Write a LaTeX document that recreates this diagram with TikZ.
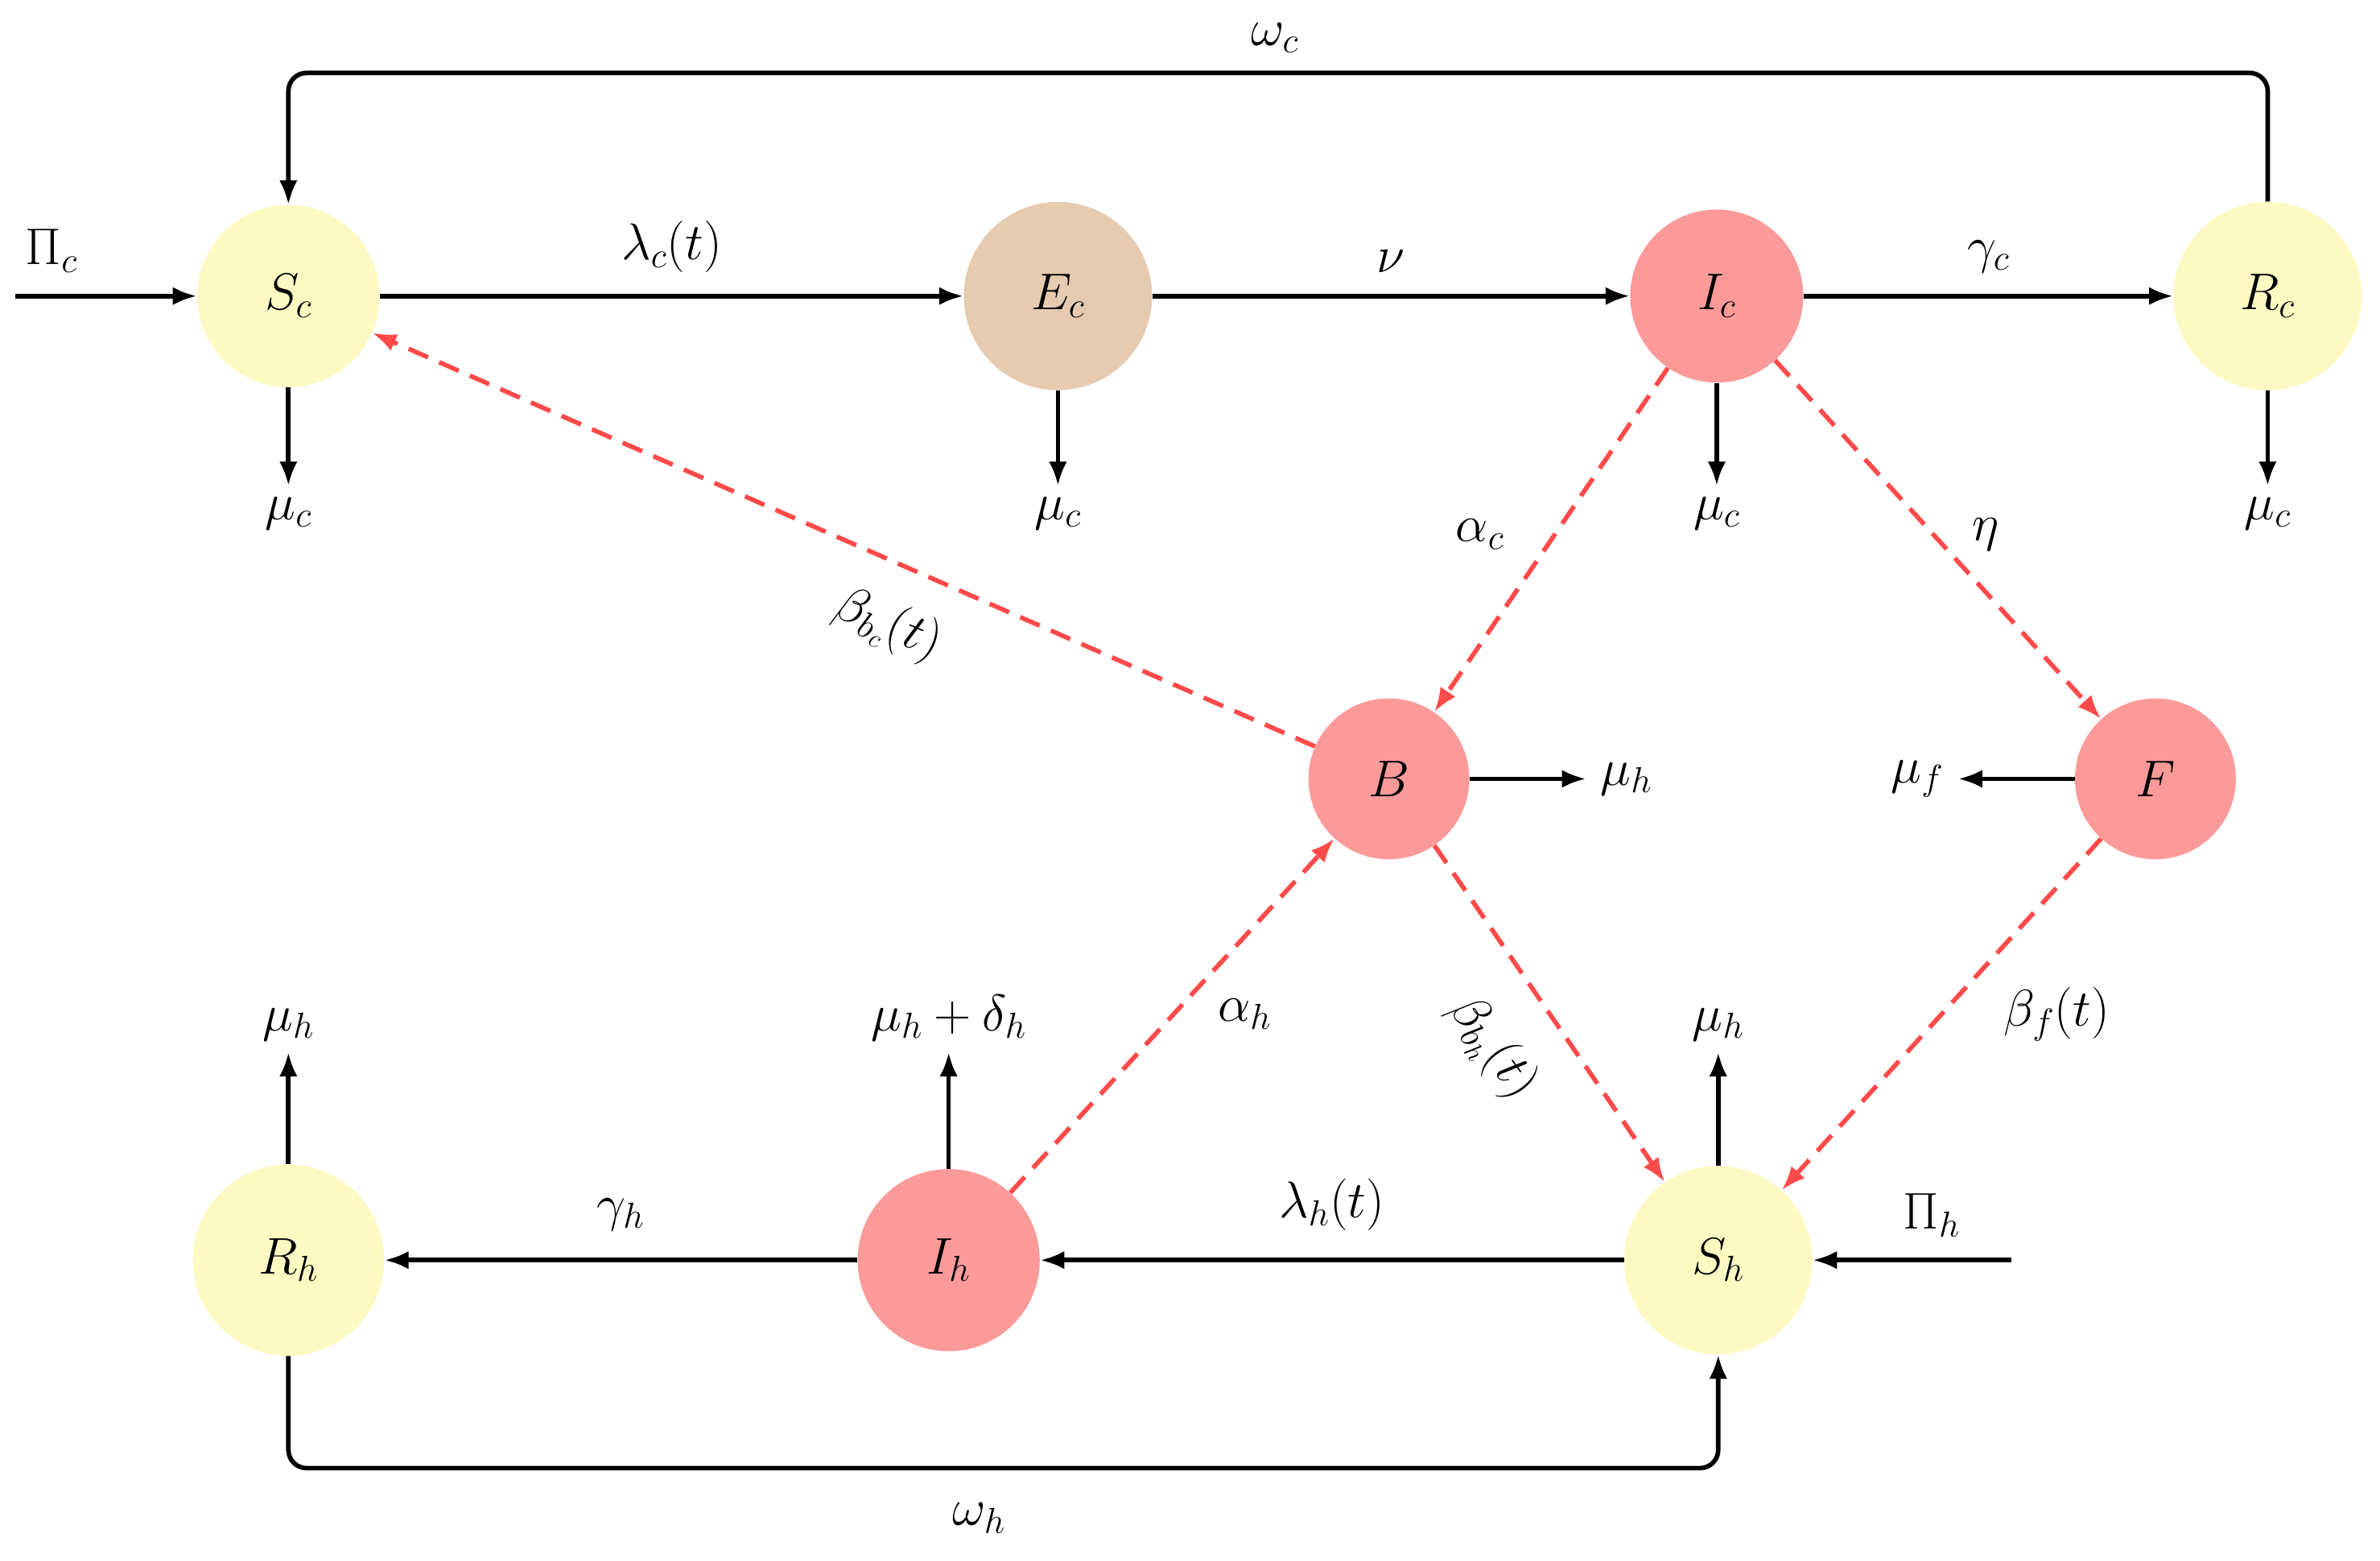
\documentclass[tikz,border=0pt]{standalone}
\usepackage{fix-cm}
\usetikzlibrary{arrows.meta}
\definecolor{yel}{HTML}{FCFAC2}
\definecolor{tan}{HTML}{E6CBB0}
\definecolor{rd}{HTML}{FC9A9A}
\definecolor{dsh}{HTML}{FF4A4A}
\begin{document}
\begin{tikzpicture}[x=1pt,y=-1pt,
  every node/.style={font=\fontsize{34}{40}\selectfont},
  comp/.style={circle,draw=none,inner sep=0pt},
  a/.style={line width=3pt,-{Latex[length=16pt,width=12pt]}},
  d/.style={line width=3pt,dsh,dash pattern=on 14pt off 8pt,-{Latex[length=16pt,width=12pt]}},
  lab/.style={inner sep=0pt}]
\useasboundingbox (0,0) rectangle (1568,1028);
\node[comp,fill=yel,minimum size=120pt] (Sc) at (190,195) {$S_c$};
\node[comp,fill=tan,minimum size=124pt] (Ec) at (697,195) {$E_c$};
\node[comp,fill=rd,minimum size=114pt] (Ic) at (1131,195) {$I_c$};
\node[comp,fill=yel,minimum size=124pt] (Rc) at (1494,195) {$R_c$};
\node[comp,fill=rd,minimum size=106pt] (B) at (915,513) {$B$};
\node[comp,fill=rd,minimum size=106pt] (F) at (1420,513) {$F$};
\node[comp,fill=yel,minimum size=126pt] (Rh) at (190,830) {$R_h$};
\node[comp,fill=rd,minimum size=120pt] (Ih) at (625,830) {$I_h$};
\node[comp,fill=yel,minimum size=124pt] (Sh) at (1132,830) {$S_h$};
% coordinates
\coordinate (pc) at (10,195);
\coordinate (ph) at (1325,830);
\coordinate (mSc) at (190,320);
\coordinate (mEc) at (697,320);
\coordinate (mIc) at (1131,320);
\coordinate (mRc) at (1494,320);
\coordinate (mB) at (1045,513);
\coordinate (mF) at (1290,513);
\coordinate (mRh) at (190,693);
\coordinate (mIh) at (625,693);
\coordinate (mSh) at (1132,693);
% flows
\draw[a] (Sc) -- (Ec) node[midway,above=14pt,lab] {$\lambda_c(t)$};
\draw[a] (Ec) -- (Ic) node[midway,above=14pt,lab] {$\nu$};
\draw[a] (Ic) -- (Rc) node[midway,above=14pt,lab] {$\gamma_c$};
\draw[a] (Sh) -- (Ih) node[midway,above=18pt,lab] {$\lambda_h(t)$};
\draw[a] (Ih) -- (Rh) node[midway,above=18pt,lab] {$\gamma_h$};
\draw[a] (pc) -- (Sc) node[pos=0.2,above=14pt,lab] {$\Pi_c$};
\draw[a] (ph) -- (Sh) node[pos=0.4,above=14pt,lab] {$\Pi_h$};
\draw[a,rounded corners=12pt] (Rc.north) -- (1494,48) -- (190,48) -- (Sc.north);
\node[lab] at (840,25) {$\omega_c$};
\draw[a,rounded corners=12pt] (Rh.south) -- (190,967) -- (1132,967) -- (Sh.south);
\node[lab] at (645,1000) {$\omega_h$};
\draw[a] (Sc) -- (mSc) node[below=6pt,lab] {$\mu_c$};
\draw[a] (Ec) -- (mEc) node[below=6pt,lab] {$\mu_c$};
\draw[a] (Ic) -- (mIc) node[below=6pt,lab] {$\mu_c$};
\draw[a] (Rc) -- (mRc) node[below=6pt,lab] {$\mu_c$};
\draw[a] (B) -- (mB) node[right=8pt,lab] {$\mu_h$};
\draw[a] (F) -- (mF) node[left=8pt,lab] {$\mu_f$};
\draw[a] (Rh) -- (mRh) node[above=6pt,lab] {$\mu_h$};
\draw[a] (Ih) -- (mIh) node[above=6pt,lab] {$\mu_h+\delta_h$};
\draw[a] (Sh) -- (mSh) node[above=6pt,lab] {$\mu_h$};
% dashed
\draw[d] (B) -- (Sc);
\node[lab,rotate=-23] at (585,412) {$\beta_{b_c}(t)$};
\draw[d] (Ic) -- (B);
\node[lab] at (975,352) {$\alpha_c$};
\draw[d] (Ic) -- (F);
\node[lab] at (1308,352) {$\eta$};
\draw[d] (Ih) -- (B);
\node[lab] at (820,668) {$\alpha_h$};
\draw[d] (B) -- (Sh);
\node[lab,rotate=-54] at (983,690) {$\beta_{b_h}(t)$};
\draw[d] (F) -- (Sh);
\node[lab] at (1355,668) {$\beta_f(t)$};
\end{tikzpicture}
\end{document}
